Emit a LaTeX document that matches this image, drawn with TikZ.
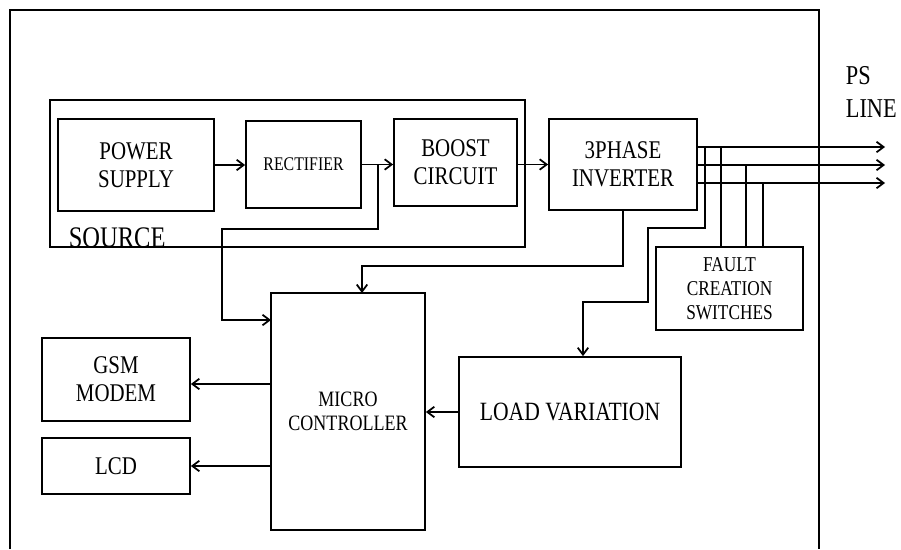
\documentclass[tikz,border=0pt]{standalone}
\usepackage{fontspec}
\setmainfont[FakeStretch=0.82]{Liberation Serif}
\usetikzlibrary{arrows.meta}

\begin{document}
\begin{tikzpicture}[x=0.02cm, y=-0.02cm, line width=1pt,
    blocco/.style={draw, align=center, inner sep=0pt, font=\fontsize{14.5}{16}\selectfont},
    freccia/.style={-{Straight Barb[length=4pt,width=6pt]}}]

        \useasboundingbox (0,0) rectangle (901,549);

        % --- Cornice esterna (aperta in basso) ---
        \draw (10,549) -- (10,10) -- (819,10) -- (819,549);

        % --- Gruppo SOURCE ---
        \node[draw, inner sep=0pt, minimum width=9.5cm, minimum height=2.94cm] (src) at (287.5,173.5) {};
        \node[anchor=base west, inner sep=0pt, font=\fontsize{17}{20}\selectfont] (srclbl) at (68,247) {SOURCE};

        % --- Blocchi della catena di potenza ---
        \node[blocco, minimum width=3.12cm, minimum height=1.84cm] (ps) at (136,165) {POWER\\SUPPLY};
        \node[blocco, minimum width=2.3cm, minimum height=1.74cm, font=\fontsize{11}{13}\selectfont] (rett) at (303.5,164.5) {RECTIFIER};
        \node[blocco, minimum width=2.46cm, minimum height=1.74cm] (boost) at (455.5,162.5) {BOOST\\CIRCUIT};
        \node[blocco, minimum width=2.96cm, minimum height=1.82cm] (inv) at (623,164.5) {3PHASE\\INVERTER};

        % --- Blocchi inferiori ---
        \node[blocco, minimum width=2.94cm, minimum height=1.66cm, font=\fontsize{12}{13.7}\selectfont] (guasti) at (729.5,288.5) {FAULT\\CREATION\\SWITCHES};
        \node[blocco, minimum width=4.44cm, minimum height=2.2cm, font=\fontsize{15}{17}\selectfont] (lv) at (570,412) {LOAD VARIATION};
        \node[blocco, minimum width=3.08cm, minimum height=4.74cm, font=\fontsize{12.5}{14}\selectfont] (mc) at (348,411.5) {MICRO\\CONTROLLER};
        \node[blocco, minimum width=2.96cm, minimum height=1.66cm] (gsm) at (116,379.5) {GSM\\MODEM};
        \node[blocco, minimum width=2.96cm, minimum height=1.12cm] (lcd) at (116,466) {LCD};

        % Etichetta della linea
        \node[anchor=north west, align=left, inner sep=0pt, font=\fontsize{15.5}{18.8}\selectfont] (psline) at (845,66) {PS\\LINE};

        % --- Collegamenti della catena ---
        \draw[freccia] (ps.east) -- (ps.east -| rett.west);
        \draw[freccia] (rett.east) -- (rett.east -| boost.west);
        \draw[freccia] (boost.east |- inv.west) -- (inv.west);

        % Derivazione dal raddrizzatore al microcontrollore
        \coordinate (nodo) at (378,164.5);
        \coordinate (mcin) at (271,320);
        \draw[freccia] (nodo) |- (222,229) |- (mcin);

        % Inverter verso il microcontrollore
        \coordinate (mcn) at (362,293);
        \draw[freccia] (inv.south) -- ++(0,55) -| (mcn);

        % --- Uscite trifase (PS LINE) ---
        \foreach \y/\n in {147/1, 165/2, 183/3} {
            \coordinate (out\n) at (885,\y);
            \draw[freccia] (inv.east |- out\n) -- (out\n);
        }

        % Prese verso i guasti
        \foreach \x/\n in {721/1, 746/2, 763/3} {
            \coordinate (f\n) at (\x,0);
            \draw (f\n |- out\n) -- (f\n |- guasti.north);
        }

        % Presa verso la variazione di carico
        \coordinate (t0) at (705,147);
        \coordinate (k1) at (583,302);
        \draw[freccia] (t0) |- (648,228) |- (k1) -- (k1 |- lv.north);

        % --- Microcontrollore: ingressi e uscite ---
        \draw[freccia] (lv.west) -- (lv.west -| mc.east);
        \coordinate (mcg) at (271,384);
        \draw[freccia] (mcg) -- (mcg -| gsm.east);
        \draw[freccia] (lcd.east -| mc.west) -- (lcd.east);

\end{tikzpicture}
\end{document}
